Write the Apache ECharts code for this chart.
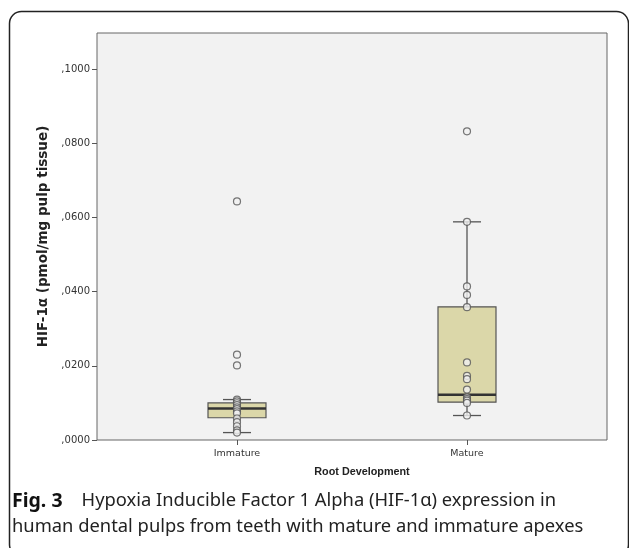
<!DOCTYPE html>
<html>
<head>
<meta charset="utf-8">
<script src="https://cdn.jsdelivr.net/npm/echarts@6/dist/echarts.min.js"></script>
<style>
  html, body { margin: 0; padding: 0; background: #fff; }
  #chart { width: 629px; height: 548px; }
</style>
</head>
<body>
<div id="chart"></div>
<script>
// categories on the x axis
var categories = ['Immature', 'Mature'];
// box stats per group: [min, Q1, median, Q3, max]
var immatureBox = [0.0020, 0.0060, 0.0085, 0.0100, 0.0109];
var matureBox = [0.0066, 0.0102, 0.0122, 0.0359, 0.0588];
// individual points overlaid on each box
var immaturePoints = [0.0643, 0.0230, 0.0201, 0.0109, 0.0104, 0.0099, 0.0094, 0.0088,
    0.0083, 0.0077, 0.0072, 0.0058, 0.0048, 0.0037, 0.0026, 0.0020];
var maturePoints = [0.0832, 0.0588, 0.0414, 0.0391, 0.0358, 0.0209, 0.0173, 0.0164,
    0.0136, 0.0115, 0.0110, 0.0106, 0.0100, 0.0066];
// y axis ticks
var yTicks = [0, 0.02, 0.04, 0.06, 0.08, 0.10];
var yMax = 0.1097;

var boxData = [[0].concat(immatureBox), [1].concat(matureBox)];
var pointData = immaturePoints.map(function (v) { return [0, v]; })
    .concat(maturePoints.map(function (v) { return [1, v]; }));

var chart = echarts.init(document.getElementById('chart'));

function renderBox(params, api) {
    var c = api.value(0);
    var pMin = api.coord([c, api.value(1)]);
    var pQ1 = api.coord([c, api.value(2)]);
    var pMed = api.coord([c, api.value(3)]);
    var pQ3 = api.coord([c, api.value(4)]);
    var pMax = api.coord([c, api.value(5)]);
    var x = pMed[0];
    var bw = 58, cw = 28;
    var line = { stroke: '#555', lineWidth: 1.3 };
    return {
        type: 'group',
        children: [
            { type: 'line', shape: { x1: x, y1: pQ3[1], x2: x, y2: pMax[1] }, style: line },
            { type: 'line', shape: { x1: x, y1: pQ1[1], x2: x, y2: pMin[1] }, style: line },
            { type: 'line', shape: { x1: x - cw / 2, y1: pMax[1], x2: x + cw / 2, y2: pMax[1] }, style: line },
            { type: 'line', shape: { x1: x - cw / 2, y1: pMin[1], x2: x + cw / 2, y2: pMin[1] }, style: line },
            { type: 'rect', shape: { x: x - bw / 2, y: pQ3[1], width: bw, height: pQ1[1] - pQ3[1] },
              style: { fill: '#DBD7A9', stroke: '#555', lineWidth: 1.2 } },
            { type: 'line', shape: { x1: x - bw / 2, y1: pMed[1], x2: x + bw / 2, y2: pMed[1] },
              style: { stroke: '#333', lineWidth: 2.5 } }
        ]
    };
}

chart.setOption({
    animation: false,
    grid: [
        { left: 97, right: 22, top: 33, bottom: 108, show: true,
          backgroundColor: '#F2F2F2', borderColor: '#666', borderWidth: 1 },
        { left: 122, right: 47, top: 33, bottom: 108 }
    ],
    xAxis: [
        { gridIndex: 0, type: 'value', min: 0, max: 1, show: false },
        { gridIndex: 1, type: 'category', data: categories,
          axisLine: { show: false },
          axisTick: { show: true, alignWithLabel: true, length: 5, lineStyle: { color: '#555' } },
          axisLabel: { fontSize: 9.5, color: '#333', margin: 9, fontFamily: 'DejaVu Sans' },
          name: 'Root Development', nameLocation: 'middle', nameGap: 27,
          nameTextStyle: { fontSize: 10.8, fontWeight: 'bold', color: '#222', fontFamily: 'Liberation Sans',
              padding: [0, 0, 0, 20] } }
    ],
    yAxis: [
        { gridIndex: 0, type: 'value', min: 0, max: yMax,
          axisLine: { show: false },
          axisTick: { show: true, inside: false, length: 5, customValues: yTicks, lineStyle: { color: '#555' } },
          axisLabel: { customValues: yTicks, margin: 7, fontSize: 10, color: '#333', fontFamily: 'DejaVu Sans',
              formatter: function (v) { return v.toFixed(4).replace('0.', ','); } },
          splitLine: { show: false },
          name: 'HIF-1\u03b1 (pmol/mg pulp tissue)', nameLocation: 'middle', nameGap: 42,
          nameTextStyle: { fontSize: 13.5, fontWeight: 'bold', color: '#222', fontFamily: 'DejaVu Sans' } },
        { gridIndex: 1, type: 'value', min: 0, max: yMax, show: false }
    ],
    series: [
        { type: 'custom', xAxisIndex: 1, yAxisIndex: 1, data: boxData, renderItem: renderBox, z: 2 },
        { type: 'scatter', xAxisIndex: 1, yAxisIndex: 1, data: pointData, z: 3,
          symbol: 'circle', symbolSize: 7,
          itemStyle: { color: '#F0F0F0', borderColor: '#555', borderWidth: 1.2 } }
    ],
    graphic: [
        { type: 'rect', shape: { x: 9.5, y: 11.5, width: 619, height: 545, r: 12 },
          style: { fill: 'none', stroke: '#222', lineWidth: 1.5 }, silent: true },
        { type: 'text', left: 12, top: 491,
          style: { text: '{b|Fig. 3}{g|}Hypoxia Inducible Factor 1 Alpha (HIF-1\u03b1) expression in',
              fontFamily: 'Noto Sans', fontSize: 18.35, fill: '#222',
              rich: { b: { fontWeight: 'bold', fontSize: 19.5, fontFamily: 'Noto Sans', fill: '#111' },
                      g: { width: 19 } } } },
        { type: 'text', left: 12, top: 518,
          style: { text: 'human dental pulps from teeth with mature and immature apexes',
              fontFamily: 'Noto Sans', fontSize: 18.35, fill: '#222' } }
    ]
});
</script>
</body>
</html>
